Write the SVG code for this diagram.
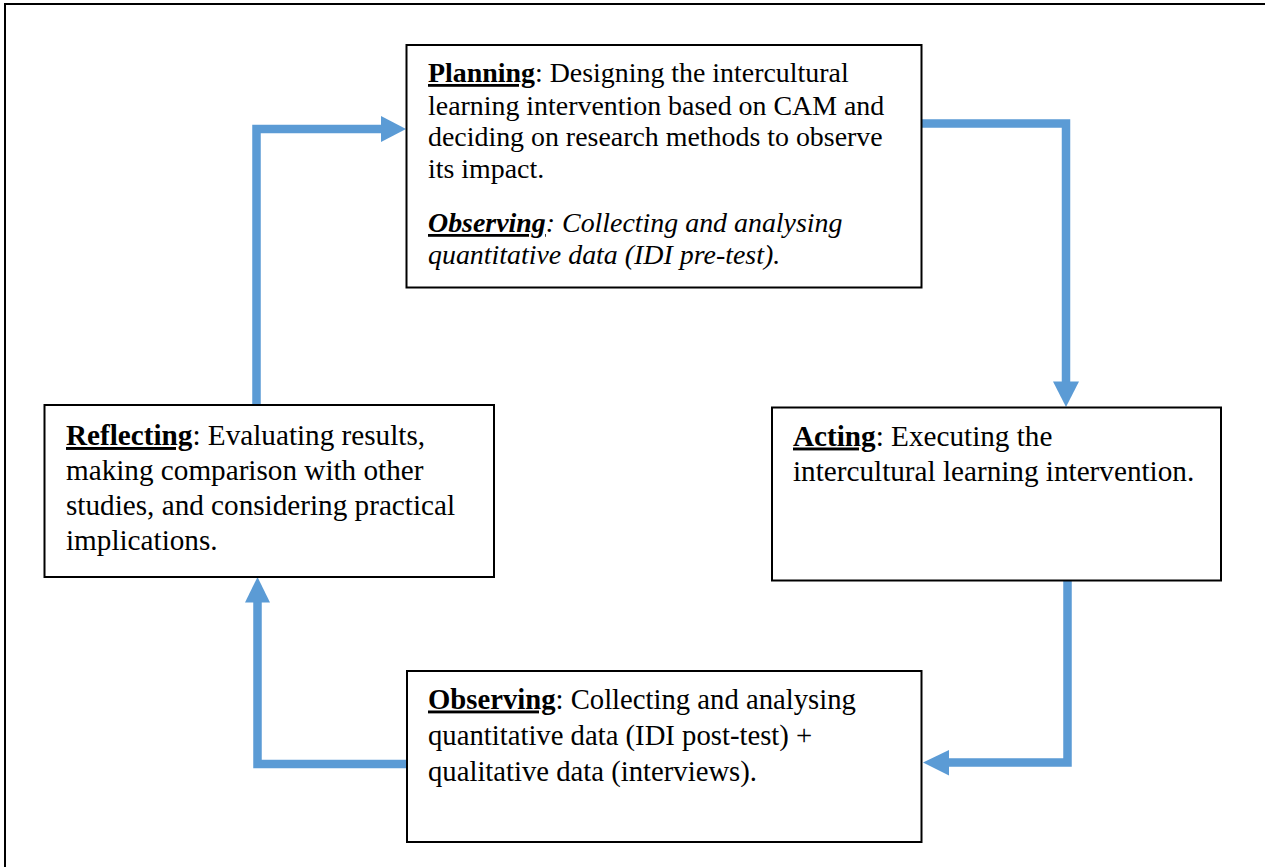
<svg xmlns="http://www.w3.org/2000/svg" width="1265" height="867" viewBox="0 0 1265 867">
<defs>
<style>
.frame{fill:#fff;stroke:#000;stroke-width:2}
.box{fill:#fff;stroke:#000;stroke-width:2}
.t{font-family:'Liberation Serif','Times New Roman',Times,serif;font-size:26px;fill:#000}
.s1{font-size:27.9px}
.s2{font-size:28.7px}
.s3{font-size:29.2px}
.b{font-weight:bold;text-decoration:underline}
.i{font-style:italic}
.conn{fill:none;stroke:#5B9BD5;stroke-width:8.5;stroke-linejoin:miter}
.head{fill:#5B9BD5}
</style>
</defs>
<rect x="0" y="0" width="1265" height="867" fill="#fff"/>
<rect class="frame" x="5" y="4" width="1300" height="900"/>

<g id="connectors">
<path class="conn" d="M256.5,405 V129 H383"/>
<polygon class="head" points="381,116 406,129 381,142"/>
<path class="conn" d="M921,123.5 H1066 V383"/>
<polygon class="head" points="1053,381.5 1066,407 1079,381.5"/>
<path class="conn" d="M1067.5,581 V762.5 H948"/>
<polygon class="head" points="949,750 923,762.5 949,775.5"/>
<path class="conn" d="M407,764 H257.5 V601"/>
<polygon class="head" points="245,602.5 257.5,577 270,602.5"/>
</g>

<g id="planning">
<rect class="box" x="406.5" y="45" width="515" height="242.5"/>
<text class="t s1" x="428" y="82"><tspan class="b">Planning</tspan>: Designing the intercultural</text>
<text class="t s1" x="428" y="114.5">learning intervention based on CAM and</text>
<text class="t s1" x="428" y="146">deciding on research methods to observe</text>
<text class="t s1" x="428" y="178">its impact.</text>
<text class="t s1 i" x="428" y="232"><tspan class="b">Observing</tspan>: Collecting and analysing</text>
<text class="t s1 i" x="428" y="264">quantitative data (IDI pre-test).</text>
</g>

<g id="acting">
<rect class="box" x="772" y="407.5" width="449" height="173"/>
<text class="t s3" x="793" y="445.5"><tspan class="b">Acting</tspan>: Executing the</text>
<text class="t s3" x="793" y="480.5">intercultural learning intervention.</text>
</g>

<g id="observing">
<rect class="box" x="407" y="671" width="514.5" height="171"/>
<text class="t s2" x="428" y="708.5"><tspan class="b">Observing</tspan>: Collecting and analysing</text>
<text class="t s2" x="428" y="744.5">quantitative data (IDI post-test) +</text>
<text class="t s2" x="428" y="781">qualitative data (interviews).</text>
</g>

<g id="reflecting">
<rect class="box" x="44.5" y="405" width="449.5" height="172"/>
<text class="t s3" x="66" y="445">
<tspan class="b">Reflecting</tspan>: Evaluating results,</text>
<text class="t s3" x="66" y="480">making comparison with other</text>
<text class="t s3" x="66" y="515">studies, and considering practical</text>
<text class="t s3" x="66" y="550">implications.</text>
</g>
</svg>
